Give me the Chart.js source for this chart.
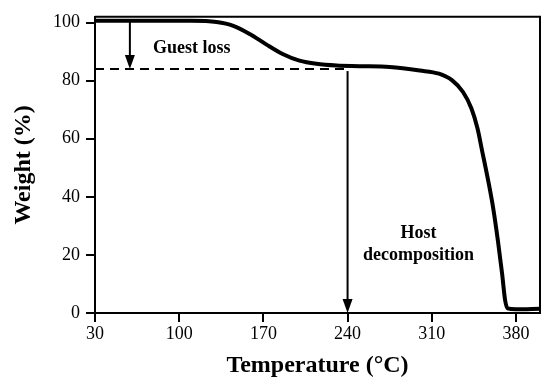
<!DOCTYPE html>
<html>
<head>
<meta charset="utf-8">
<script src="https://cdn.jsdelivr.net/npm/chart.js@4.4.1/dist/chart.umd.min.js"></script>
<style>
  html, body { margin: 0; padding: 0; background: #fff; }
  #wrap { width: 541px; height: 380px; }
</style>
</head>
<body>
<div id="wrap"><canvas id="tga"></canvas></div>
<script>
// TGA curve
const temperatures = [30, 80, 110, 131, 145, 159, 172, 186, 200, 214, 231, 250, 275, 300, 316, 327, 336, 343, 348, 352, 357, 361, 365, 368.5, 371, 373, 380, 400];
const weights = [100.6, 100.6, 100.6, 100.2, 98.9, 96, 92.6, 89.2, 86.9, 85.8, 85.2, 85.0, 84.7, 83.5, 82.4, 80.1, 76.1, 70.4, 63.6, 55.6, 45.4, 36.3, 24.9, 13.5, 4.4, 1.6, 1.3, 1.5];

const xTicks = [30, 100, 170, 240, 310, 380];
const yTicks = [0, 20, 40, 60, 80, 100];

// annotation values
const hostLevel = 84;
const guestArrowX = 59;
const hostArrowX = 240;

const serif = '"Liberation Serif", "Times New Roman", serif';

function arrow(ctx, x, y1, y2) {
  ctx.beginPath();
  ctx.moveTo(x, y1);
  ctx.lineTo(x, y2 - 12);
  ctx.stroke();
  ctx.beginPath();
  ctx.moveTo(x - 5, y2 - 14);
  ctx.lineTo(x + 5, y2 - 14);
  ctx.lineTo(x, y2);
  ctx.closePath();
  ctx.fill();
}

const annotations = {
  id: 'annotations',
  afterDatasetsDraw(chart) {
    const ctx = chart.ctx;
    const xs = chart.scales.x, ys = chart.scales.y;
    const a = chart.chartArea;
    ctx.save();
    ctx.strokeStyle = '#000';
    ctx.fillStyle = '#000';

    // frame on top and right
    ctx.lineWidth = 2;
    ctx.beginPath();
    ctx.moveTo(a.left, a.top);
    ctx.lineTo(a.right, a.top);
    ctx.lineTo(a.right, a.bottom);
    ctx.stroke();

    // dashed level line
    const yl = ys.getPixelForValue(hostLevel);
    ctx.setLineDash([9, 6]);
    ctx.beginPath();
    ctx.moveTo(a.left, yl);
    ctx.lineTo(xs.getPixelForValue(hostArrowX), yl);
    ctx.stroke();
    ctx.setLineDash([]);

    arrow(ctx, xs.getPixelForValue(guestArrowX), ys.getPixelForValue(100.5), yl);
    arrow(ctx, xs.getPixelForValue(hostArrowX), yl + 2, ys.getPixelForValue(0));

    ctx.font = 'bold 18px ' + serif;
    ctx.textAlign = 'center';
    ctx.textBaseline = 'middle';
    ctx.fillText('Guest loss', xs.getPixelForValue(110.5), ys.getPixelForValue(91));
    ctx.fillText('Host', xs.getPixelForValue(299), ys.getPixelForValue(27.6));
    ctx.fillText('decomposition', xs.getPixelForValue(299), ys.getPixelForValue(19.8));
    ctx.restore();
  }
};

const points = temperatures.map((t, i) => ({ x: t, y: weights[i] }));

new Chart(document.getElementById('tga'), {
  type: 'line',
  data: {
    datasets: [{
      data: points,
      borderColor: '#000',
      borderWidth: 4,
      pointRadius: 0,
      cubicInterpolationMode: 'monotone',
      fill: false
    }]
  },
  options: {
    responsive: true,
    maintainAspectRatio: false,
    animation: false,
    events: [],
    layout: { padding: { top: 13, right: 1, left: 0, bottom: 0 } },
    plugins: { legend: { display: false }, tooltip: { enabled: false } },
    scales: {
      x: {
        type: 'linear',
        min: 30,
        max: 400,
        afterBuildTicks: s => { s.ticks = xTicks.map(v => ({ value: v })); },
        afterFit: s => { s.height = 67; },
        border: { color: '#000', width: 2 },
        grid: { drawOnChartArea: false, color: '#000', lineWidth: 2, tickLength: 9 },
        ticks: { color: '#000', font: { family: serif, size: 18 }, padding: 1, maxRotation: 0 },
        title: {
          display: true,
          text: 'Temperature (°C)',
          color: '#000',
          font: { family: serif, size: 24, weight: 'bold' },
          padding: { top: 0, bottom: 0 }
        }
      },
      y: {
        min: 0,
        max: 102,
        afterBuildTicks: s => { s.ticks = yTicks.map(v => ({ value: v })); },
        afterFit: s => { s.width = 95; },
        border: { color: '#000', width: 2 },
        grid: { drawOnChartArea: false, color: '#000', lineWidth: 2, tickLength: 9 },
        ticks: { color: '#000', font: { family: serif, size: 18 }, padding: 6 },
        title: {
          display: true,
          text: 'Weight (%)',
          color: '#000',
          font: { family: serif, size: 24, weight: 'bold' },
          padding: { top: 9, bottom: 0 }
        }
      }
    }
  },
  plugins: [annotations]
});
</script>
</body>
</html>
